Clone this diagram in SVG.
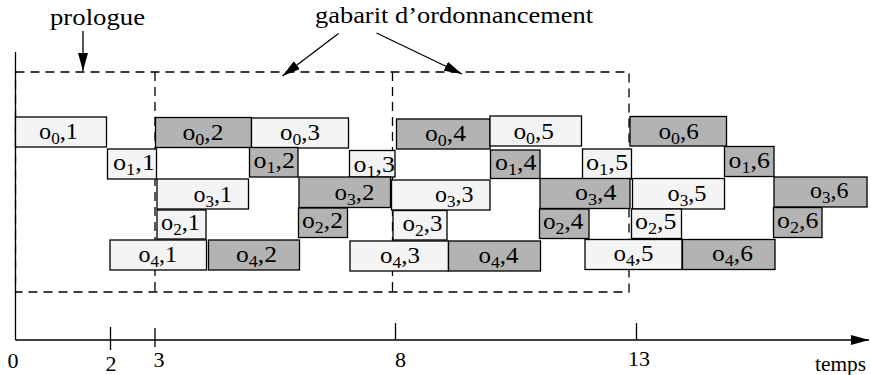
<svg xmlns="http://www.w3.org/2000/svg" width="871" height="375" viewBox="0 0 871 375">
<style>
.box rect{stroke:#000;stroke-width:1.3}
.lt{fill:#f4f4f4}
.dk{fill:#b3b3b3}
text{font-family:"Liberation Serif","Times New Roman",serif;fill:#000}
.lbl{font-size:24px}
.sub{font-size:17px}
.ax{font-size:21px}
.ttl{font-size:24px}
.dash{fill:none;stroke:#000;stroke-width:1.3;stroke-dasharray:9,6}
.ln{stroke:#000;stroke-width:1.3;fill:none}
</style>
<defs>
<marker id="ah" viewBox="0 0 18 10" refX="18" refY="5" markerWidth="18" markerHeight="10" markerUnits="userSpaceOnUse" orient="auto">
<path d="M0,0 L18,5 L0,10 Z" fill="#000"/>
</marker>
</defs>

<g id="axes">
<line class="ln" x1="15.5" y1="52" x2="15.5" y2="340"/>
<line class="ln" x1="15.5" y1="340" x2="869" y2="340" marker-end="url(#ah)"/>
<line class="ln" x1="110.5" y1="327" x2="110.5" y2="350"/>
<line class="ln" x1="155" y1="328" x2="155" y2="347"/>
<line class="ln" x1="395.5" y1="323" x2="395.5" y2="340"/>
<line class="ln" x1="636.5" y1="323" x2="636.5" y2="340"/>
<text class="ax" x="7.5" y="368" textLength="11" lengthAdjust="spacingAndGlyphs">0</text>
<text class="ax" x="105.5" y="371" textLength="11" lengthAdjust="spacingAndGlyphs">2</text>
<text class="ax" x="153.5" y="367" textLength="11" lengthAdjust="spacingAndGlyphs">3</text>
<text class="ax" x="395" y="367" textLength="11" lengthAdjust="spacingAndGlyphs">8</text>
<text class="ax" x="628" y="366" textLength="22" lengthAdjust="spacingAndGlyphs">13</text>
<text class="ax" x="815" y="371" textLength="51" lengthAdjust="spacingAndGlyphs">temps</text>
</g>

<g id="gabarit-frame">
<rect class="dash" x="15.5" y="72" width="613.5" height="220"/>
<line class="dash" x1="155" y1="72" x2="155" y2="292"/>
<line class="dash" x1="392.5" y1="72" x2="392.5" y2="292"/>
</g>

<g id="row-o0">
<g id="o0-1" class="box"><rect class="lt" x="15.5" y="117" width="91" height="30"/><text class="lbl" x="39" y="139" textLength="39" lengthAdjust="spacingAndGlyphs">o<tspan class="sub" dy="5">0</tspan><tspan dy="-5">,1</tspan></text></g>
<g id="o0-2" class="box"><rect class="dk" x="155.5" y="117.5" width="96" height="30"/><text class="lbl" x="182.5" y="139.5" textLength="41" lengthAdjust="spacingAndGlyphs">o<tspan class="sub" dy="5">0</tspan><tspan dy="-5">,2</tspan></text></g>
<g id="o0-3" class="box"><rect class="lt" x="251.5" y="118" width="97" height="30"/><text class="lbl" x="280" y="139.5" textLength="40" lengthAdjust="spacingAndGlyphs">o<tspan class="sub" dy="5">0</tspan><tspan dy="-5">,3</tspan></text></g>
<g id="o0-4" class="box"><rect class="dk" x="396.5" y="119" width="93.5" height="30"/><text class="lbl" x="425" y="141" textLength="41" lengthAdjust="spacingAndGlyphs">o<tspan class="sub" dy="5">0</tspan><tspan dy="-5">,4</tspan></text></g>
<g id="o0-5" class="box"><rect class="lt" x="490" y="116" width="91.5" height="30"/><text class="lbl" x="513.5" y="138.5" textLength="40.5" lengthAdjust="spacingAndGlyphs">o<tspan class="sub" dy="5">0</tspan><tspan dy="-5">,5</tspan></text></g>
<g id="o0-6" class="box"><rect class="dk" x="630" y="116.5" width="96.5" height="29.5"/><text class="lbl" x="658.5" y="138.5" textLength="40.5" lengthAdjust="spacingAndGlyphs">o<tspan class="sub" dy="5">0</tspan><tspan dy="-5">,6</tspan></text></g>
</g>

<g id="row-o1">
<g id="o1-1" class="box"><rect class="lt" x="107.5" y="149" width="49" height="30"/><text class="lbl" x="113" y="170" textLength="42" lengthAdjust="spacingAndGlyphs">o<tspan class="sub" dy="5">1</tspan><tspan dy="-5">,1</tspan></text></g>
<g id="o1-2" class="box"><rect class="dk" x="249.5" y="147.5" width="48.5" height="29.5"/><text class="lbl" x="253.5" y="167.5" textLength="41.5" lengthAdjust="spacingAndGlyphs">o<tspan class="sub" dy="5">1</tspan><tspan dy="-5">,2</tspan></text></g>
<g id="o1-3" class="box"><rect class="lt" x="349.5" y="150.5" width="45.5" height="26.5"/><text class="lbl" x="353.5" y="171.5" textLength="41.5" lengthAdjust="spacingAndGlyphs">o<tspan class="sub" dy="5">1</tspan><tspan dy="-5">,3</tspan></text></g>
<g id="o1-4" class="box"><rect class="dk" x="490.5" y="150" width="49.5" height="28.5"/><text class="lbl" x="495" y="170" textLength="41.5" lengthAdjust="spacingAndGlyphs">o<tspan class="sub" dy="5">1</tspan><tspan dy="-5">,4</tspan></text></g>
<g id="o1-5" class="box"><rect class="lt" x="582.5" y="149" width="49" height="30"/><text class="lbl" x="586" y="170" textLength="42" lengthAdjust="spacingAndGlyphs">o<tspan class="sub" dy="4.5">1</tspan><tspan dy="-4.5">,5</tspan></text></g>
<g id="o1-6" class="box"><rect class="dk" x="724.5" y="146.5" width="49.5" height="30"/><text class="lbl" x="728.5" y="168" textLength="41.5" lengthAdjust="spacingAndGlyphs">o<tspan class="sub" dy="5">1</tspan><tspan dy="-5">,6</tspan></text></g>
</g>

<g id="row-o3">
<g id="o3-1" class="box"><rect class="lt" x="157" y="179" width="91.5" height="30"/><text class="lbl" x="193.5" y="201.5" textLength="38.5" lengthAdjust="spacingAndGlyphs">o<tspan class="sub" dy="5">3</tspan><tspan dy="-5">,1</tspan></text></g>
<g id="o3-2" class="box"><rect class="dk" x="299" y="177" width="91.5" height="30.5"/><text class="lbl" x="334.5" y="200" textLength="40" lengthAdjust="spacingAndGlyphs">o<tspan class="sub" dy="5">3</tspan><tspan dy="-5">,2</tspan></text></g>
<g id="o3-3" class="box"><rect class="lt" x="391.5" y="180" width="98.5" height="30"/><text class="lbl" x="435" y="202" textLength="38.5" lengthAdjust="spacingAndGlyphs">o<tspan class="sub" dy="5">3</tspan><tspan dy="-5">,3</tspan></text></g>
<g id="o3-4" class="box"><rect class="dk" x="540" y="178.5" width="90" height="30"/><text class="lbl" x="575" y="200" textLength="41.5" lengthAdjust="spacingAndGlyphs">o<tspan class="sub" dy="5">3</tspan><tspan dy="-5">,4</tspan></text></g>
<g id="o3-5" class="box"><rect class="lt" x="632.5" y="178.5" width="92" height="30.5"/><text class="lbl" x="667.5" y="200.5" textLength="39" lengthAdjust="spacingAndGlyphs">o<tspan class="sub" dy="5">3</tspan><tspan dy="-5">,5</tspan></text></g>
<g id="o3-6" class="box"><rect class="dk" x="774" y="177" width="93" height="30"/><text class="lbl" x="810" y="198" textLength="38.5" lengthAdjust="spacingAndGlyphs">o<tspan class="sub" dy="5">3</tspan><tspan dy="-5">,6</tspan></text></g>
</g>

<g id="row-o2">
<g id="o2-1" class="box"><rect class="lt" x="157" y="210" width="49" height="29"/><text class="lbl" x="161" y="230" textLength="39" lengthAdjust="spacingAndGlyphs">o<tspan class="sub" dy="5">2</tspan><tspan dy="-5">,1</tspan></text></g>
<g id="o2-2" class="box"><rect class="dk" x="298.5" y="208" width="49" height="29.5"/><text class="lbl" x="302" y="228" textLength="41" lengthAdjust="spacingAndGlyphs">o<tspan class="sub" dy="5">2</tspan><tspan dy="-5">,2</tspan></text></g>
<g id="o2-3" class="box"><rect class="lt" x="393" y="210.5" width="54" height="29.5"/><text class="lbl" x="402.5" y="230.5" textLength="40" lengthAdjust="spacingAndGlyphs">o<tspan class="sub" dy="5">2</tspan><tspan dy="-5">,3</tspan></text></g>
<g id="o2-4" class="box"><rect class="dk" x="539.5" y="209" width="49.5" height="29.5"/><text class="lbl" x="543" y="229" textLength="40.5" lengthAdjust="spacingAndGlyphs">o<tspan class="sub" dy="5">2</tspan><tspan dy="-5">,4</tspan></text></g>
<g id="o2-5" class="box"><rect class="lt" x="631.5" y="209" width="50" height="29.5"/><text class="lbl" x="635" y="229" textLength="41.5" lengthAdjust="spacingAndGlyphs">o<tspan class="sub" dy="5">2</tspan><tspan dy="-5">,5</tspan></text></g>
<g id="o2-6" class="box"><rect class="dk" x="773.5" y="207.5" width="48.5" height="30"/><text class="lbl" x="777" y="227.5" textLength="41.5" lengthAdjust="spacingAndGlyphs">o<tspan class="sub" dy="5">2</tspan><tspan dy="-5">,6</tspan></text></g>
</g>

<g id="row-o4">
<g id="o4-1" class="box"><rect class="lt" x="110" y="240" width="96.5" height="30"/><text class="lbl" x="138.5" y="262" textLength="38.5" lengthAdjust="spacingAndGlyphs">o<tspan class="sub" dy="5">4</tspan><tspan dy="-5">,1</tspan></text></g>
<g id="o4-2" class="box"><rect class="dk" x="208.5" y="240" width="91" height="30"/><text class="lbl" x="236" y="262" textLength="41" lengthAdjust="spacingAndGlyphs">o<tspan class="sub" dy="5">4</tspan><tspan dy="-5">,2</tspan></text></g>
<g id="o4-3" class="box"><rect class="lt" x="350" y="241" width="98.5" height="30"/><text class="lbl" x="380" y="262.5" textLength="40" lengthAdjust="spacingAndGlyphs">o<tspan class="sub" dy="5">4</tspan><tspan dy="-5">,3</tspan></text></g>
<g id="o4-4" class="box"><rect class="dk" x="448.5" y="241" width="92" height="30"/><text class="lbl" x="478.5" y="262.5" textLength="40" lengthAdjust="spacingAndGlyphs">o<tspan class="sub" dy="5">4</tspan><tspan dy="-5">,4</tspan></text></g>
<g id="o4-5" class="box"><rect class="lt" x="585" y="239.5" width="97" height="30"/><text class="lbl" x="613.5" y="261" textLength="40" lengthAdjust="spacingAndGlyphs">o<tspan class="sub" dy="5">4</tspan><tspan dy="-5">,5</tspan></text></g>
<g id="o4-6" class="box"><rect class="dk" x="682.5" y="239.5" width="92.5" height="30"/><text class="lbl" x="712" y="261" textLength="41" lengthAdjust="spacingAndGlyphs">o<tspan class="sub" dy="5">4</tspan><tspan dy="-5">,6</tspan></text></g>
</g>

<g id="annotations">
<text class="ttl" x="50" y="25" textLength="95" lengthAdjust="spacingAndGlyphs">prologue</text>
<text class="ttl" x="315" y="23" textLength="278" lengthAdjust="spacingAndGlyphs">gabarit d’ordonnancement</text>
</g>

<g id="connectors">
<line class="ln" x1="83" y1="31" x2="83" y2="71" marker-end="url(#ah)"/>
<line class="ln" x1="338.5" y1="33.5" x2="282.5" y2="76" marker-end="url(#ah)"/>
<line class="ln" x1="376.5" y1="33" x2="462" y2="74" marker-end="url(#ah)"/>
</g>
</svg>
